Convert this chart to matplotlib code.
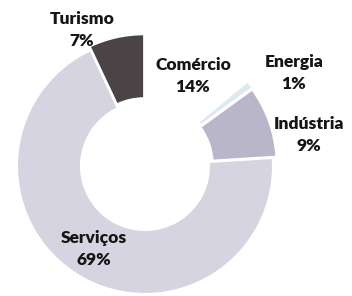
import matplotlib
matplotlib.use("Agg")
import matplotlib.pyplot as plt

# dados
setores = ["Comércio", "Energia", "Indústria", "Serviços", "Turismo"]
percentuais = [14, 1, 9, 69, 7]

cores = ["#ffffff", "#dde9f2", "#b9b6c9", "#d6d4e0", "#4b4446"]
afastamento = [0.0, 0.04, 0.03, 0.0, 0.03]

# posição dos rótulos (pixels, origem no canto superior esquerdo)
pos_rotulos = [(193, 76), (294, 73), (309, 135), (94, 249), (82, 30)]

W, H = 352, 296
cx, cy, R = 145, 166, 128

fig = plt.figure(figsize=(W / 100, H / 100), dpi=100)
ax = fig.add_axes([0, 0, 1, 1])

ax.pie(percentuais, colors=cores, explode=afastamento, startangle=90,
       counterclock=False, radius=1.0,
       wedgeprops=dict(width=0.5, edgecolor="white", linewidth=1.5))

ax.set_aspect("auto")
ax.set_xlim(-cx / R, (W - cx) / R)
ax.set_ylim(-(H - cy) / R, cy / R)
ax.axis("off")

for nome, p, (px, py) in zip(setores, percentuais, pos_rotulos):
    ax.text((px - cx) / R, (cy - py) / R, f"{nome}\n{p}%", ha="center", va="center",
            fontsize=12.5, fontweight="heavy", family="Lato", color="#151515",
            linespacing=1.45)

fig.savefig("out.png", dpi=100)
